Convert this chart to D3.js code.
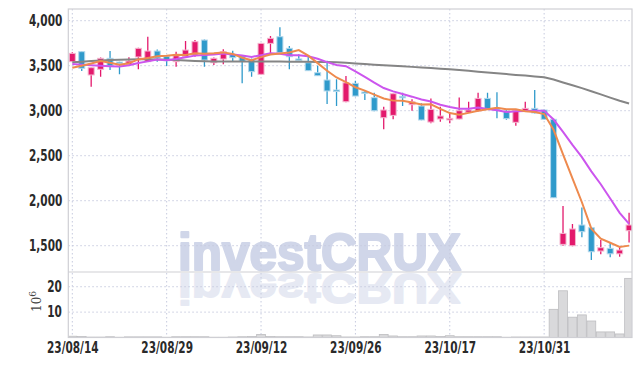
<!DOCTYPE html>
<html>
<head>
<meta charset="utf-8">
<script src="https://cdn.jsdelivr.net/npm/d3@7"></script>
<style>
  body { margin: 0; background: #fff; }
  svg text { font-family: "Liberation Sans Narrow", "DejaVu Sans Condensed", sans-serif; }
</style>
</head>
<body>
<div id="chart"></div>
<script>
// trading days (yy/mm/dd)
var dates = ["23/08/14","23/08/16","23/08/17","23/08/18","23/08/21","23/08/22","23/08/23","23/08/24","23/08/25","23/08/28",
  "23/08/29","23/08/30","23/08/31","23/09/01","23/09/04","23/09/05","23/09/06","23/09/07","23/09/08","23/09/11",
  "23/09/12","23/09/13","23/09/14","23/09/15","23/09/18","23/09/19","23/09/20","23/09/21","23/09/22","23/09/25",
  "23/09/26","23/09/27","23/10/04","23/10/05","23/10/06","23/10/10","23/10/11","23/10/12","23/10/13","23/10/16",
  "23/10/17","23/10/18","23/10/19","23/10/20","23/10/23","23/10/24","23/10/25","23/10/26","23/10/27","23/10/30",
  "23/10/31","23/11/01","23/11/02","23/11/03","23/11/06","23/11/07","23/11/08","23/11/09","23/11/10","23/11/13"];

var opens = [3545,3656,3397,3460,3582,3540,3512,3597,3545,3663, 3605,3545,3600,3619,3785,3533,3574,3626,3608,3571,
  3404,3748,3822,3693,3575,3533,3422,3341,3230,3100, 3304,3208,3145,2922,2948,3160,3067,3052,2874,2908,
  2897,2908,2982,2997,3137,3026,2995,2871,3000,3026, 3008,2904,1515,1500,1730,1700,1441,1471,1410,1667];
var highs = [3650,3660,3482,3590,3663,3545,3593,3700,3822,3680, 3610,3656,3774,3785,3790,3590,3682,3667,3612,3580,
  3750,3830,3926,3719,3626,3600,3500,3556,3349,3386, 3333,3230,3200,3045,3195,3200,3126,3082,3137,3045,
  2971,3148,3100,3200,3200,3204,3019,3005,3100,3230, 3010,2910,1941,1741,1926,1705,1563,1537,1489,1867];
var lows = [3540,3441,3267,3378,3452,3405,3508,3460,3540,3545, 3497,3489,3595,3600,3489,3508,3515,3545,3304,3378,
  3400,3637,3640,3460,3545,3440,3385,3074,3052,3095, 3160,3119,2995,2793,2904,3052,3000,2895,2860,2878,
  2860,2905,2975,2990,3010,2915,2900,2834,2995,2970, 2900,2030,1500,1495,1593,1341,1404,1371,1378,1537];
var closes = [3637,3471,3478,3582,3497,3525,3552,3693,3663,3585, 3555,3611,3674,3767,3563,3582,3656,3589,3548,3434,
  3748,3804,3645,3600,3568,3445,3389,3219,3222,3310, 3163,3200,3000,3008,3189,3152,3100,2897,3015,2941,
  2915,3000,3008,3137,3015,3010,2912,3000,3026,2975, 2904,2033,1637,1686,1656,1433,1478,1410,1452,1730];

// moving averages as drawn
var ma5 = [3478,3500,3525,3552,3533,3511,3527,3570,3586,3604, 3610,3621,3618,3638,3634,3639,3648,3631,3588,3562,
  3595,3625,3636,3646,3673,3612,3529,3444,3369,3317, 3261,3223,3179,3136,3112,3110,3090,3069,3071,3021,
  2974,2954,2976,3000,3015,3034,3016,3015,2993,2985, 2963,2788,2515,2247,1983,1689,1578,1533,1486,1501];
var ma10 = [3520,3512,3505,3500,3495,3490,3505,3530,3548,3568, 3560,3574,3594,3612,3619,3625,3635,3625,3613,3598,
  3617,3637,3634,3617,3617,3604,3577,3540,3507,3495, 3437,3376,3312,3252,3215,3185,3156,3124,3103,3067,
  3042,3022,3023,3035,3018,3004,2985,2995,2996,3000, 2999,2902,2765,2620,2484,2326,2183,2024,1866,1742];
var ma60 = [3538,3545,3552,3558,3563,3567,3570,3572,3572,3570, 3567,3563,3558,3553,3550,3548,3547,3547,3546,3546,
  3546,3546,3546,3545,3545,3544,3542,3540,3537,3533, 3525,3518,3511,3505,3499,3493,3487,3481,3474,3467,
  3460,3451,3443,3434,3425,3416,3407,3398,3390,3381, 3371,3346,3314,3283,3251,3216,3181,3145,3110,3080];

// volume, millions
var volumes = [0.5,0.4,0.15,0.15,0.3,0.1,0.25,0.25,0.25,0.25, 0.1,0.3,0.3,0.3,0.3,0.1,0.1,0.2,0.3,0.4,
  1.2,0.4,0.3,0.3,0.3,0.2,1.0,1.0,0.7,0.2, 0.2,0.3,0.3,1.2,0.6,0.3,0.3,0.6,0.6,0.4,
  0.7,0.3,0.3,0.3,0.3,0.3,0.1,0.2,0.2,0.2, 0.2,11.1,18.4,8.0,8.9,6.5,2.2,2.2,1.4,23.3];

var priceTicks = [1500, 2000, 2500, 3000, 3500, 4000];
var volumeTicks = [10, 20];
var dateTicks = ["23/08/14", "23/08/29", "23/09/12", "23/09/26", "23/10/17", "23/10/31"];

var W = 642, H = 366;
var padL = 68.3, padR = 632, padT = 9, midY = 272, padB = 337.5;

var svg = d3.select('#chart').append('svg').attr('width', W).attr('height', H);

var x = d3.scaleLinear().domain([-0.424, 59.31]).range([padL, padR]);
var y = d3.scaleLinear().domain([1208, 4130]).range([midY, padT]);
var yv = d3.scaleLinear().domain([0, 25.8]).range([padB, midY]);
var step = x(1) - x(0);
var tickIdx = dateTicks.map(function(d){ return dates.indexOf(d); });

var defs = svg.append('defs');
defs.append('clipPath').attr('id', 'clipP').append('rect')
  .attr('x', padL).attr('y', padT).attr('width', padR - padL).attr('height', midY - padT);
defs.append('clipPath').attr('id', 'clipV').append('rect')
  .attr('x', padL).attr('y', midY).attr('width', padR - padL).attr('height', padB - midY);

// watermark + reflection
function watermark(sel, color){
  return sel.append('text').attr('x', 178).attr('textLength', 283).attr('lengthAdjust', 'spacingAndGlyphs')
    .style('font-family', '"Liberation Sans", Arial, sans-serif').style('font-weight', 'bold')
    .style('font-size', '52px').attr('fill', color)
    .attr('stroke', color).attr('stroke-width', 2.2).attr('stroke-linejoin', 'round')
    .text('investCRUX');
}
watermark(svg, '#d0d6e9').attr('y', 270);
watermark(svg.append('g').attr('clip-path', 'url(#clipV)'), '#e6e9f3')
  .attr('y', 0).attr('transform', 'translate(0,' + (midY + 2) + ') scale(1,-0.8)');

// grid
var grid = svg.append('g').attr('stroke', '#c6cade').attr('stroke-dasharray', '1.5,2.5').attr('stroke-width', 1);
grid.selectAll('.hp').data(priceTicks).enter().append('line')
  .attr('x1', padL).attr('x2', padR).attr('y1', function(d){ return y(d); }).attr('y2', function(d){ return y(d); });
grid.selectAll('.hv').data(volumeTicks).enter().append('line')
  .attr('x1', padL).attr('x2', padR).attr('y1', function(d){ return yv(d); }).attr('y2', function(d){ return yv(d); });
grid.selectAll('.v').data(tickIdx).enter().append('line')
  .attr('y1', padT).attr('y2', padB).attr('x1', function(d){ return x(d); }).attr('x2', function(d){ return x(d); });

// volume bars
svg.append('g').attr('clip-path', 'url(#clipV)').selectAll('rect').data(volumes).enter().append('rect')
  .attr('x', function(d, i){ return x(i) - step / 2 + 0.3; })
  .attr('width', step - 0.6)
  .attr('y', function(d){ return yv(d); })
  .attr('height', function(d){ return padB - yv(d); })
  .attr('fill', '#d9d9db').attr('stroke', '#bdbdc0').attr('stroke-width', 0.8);

// candles
var up = '#e3196c', down = '#2f9acb';
var candles = svg.append('g').attr('clip-path', 'url(#clipP)');
var cg = candles.selectAll('g').data(closes).enter().append('g');
cg.append('line')
  .attr('x1', function(d, i){ return x(i); }).attr('x2', function(d, i){ return x(i); })
  .attr('y1', function(d, i){ return y(highs[i]); }).attr('y2', function(d, i){ return y(lows[i]); })
  .attr('stroke', function(d, i){ return d >= opens[i] ? up : down; }).attr('stroke-width', 1.3);
cg.append('rect')
  .attr('x', function(d, i){ return x(i) - 3; }).attr('width', 6)
  .attr('y', function(d, i){ return y(Math.max(d, opens[i])); })
  .attr('height', function(d, i){ return Math.max(1.5, Math.abs(y(d) - y(opens[i]))); })
  .attr('fill', function(d, i){ return d >= opens[i] ? up : down; })
  .attr('stroke', function(d, i){ return d >= opens[i] ? '#f4b6cf' : '#b3d8ec'; })
  .attr('stroke-width', 1);

// moving averages
var line = d3.line().x(function(d, i){ return x(i); }).y(function(d){ return y(d); });
var lines = svg.append('g').attr('clip-path', 'url(#clipP)').attr('fill', 'none');
lines.append('path').datum(ma60).attr('d', line).attr('stroke', '#858585').attr('stroke-width', 2);
lines.append('path').datum(ma10).attr('d', line).attr('stroke', '#cc55ee').attr('stroke-width', 2);
lines.append('path').datum(ma5).attr('d', line).attr('stroke', '#ee8a4e').attr('stroke-width', 2);

// frame
var frame = svg.append('g').attr('stroke', '#cfcfd4').attr('stroke-width', 1.2).attr('fill', 'none');
frame.append('rect').attr('x', padL).attr('y', padT).attr('width', padR - padL).attr('height', padB - padT);
frame.append('line').attr('x1', padL).attr('x2', padR).attr('y1', midY).attr('y2', midY);

// axes (labels squeezed to look like the condensed face of the original)
var yAxis = svg.append('g').attr('transform', 'translate(' + (padL - 6) + ',0)')
  .call(d3.axisLeft(y).tickValues(priceTicks).tickSize(0).tickPadding(0).tickFormat(d3.format(',')));
var vAxis = svg.append('g').attr('transform', 'translate(' + (padL - 6.5) + ',0)')
  .call(d3.axisLeft(yv).tickValues(volumeTicks).tickSize(0).tickPadding(0));
var xAxis = svg.append('g').attr('transform', 'translate(0,' + padB + ')')
  .call(d3.axisBottom(x).tickValues(tickIdx).tickSize(0).tickPadding(5)
    .tickFormat(function(i){ return dates[i]; }));
[yAxis, vAxis, xAxis].forEach(function(a){
  a.select('.domain').remove();
  a.selectAll('text').attr('fill', '#2a2a2a').attr('x', 0).attr('transform', 'scale(0.78,1)')
    .style('font-size', '15px').style('font-weight', 'bold');
});

var unit = svg.append('text').attr('transform', 'translate(41,312) rotate(-90)')
  .style('font-family', '"DejaVu Serif", serif').style('font-size', '12px').attr('fill', '#444');
unit.append('tspan').text('10');
unit.append('tspan').attr('dy', -5).style('font-size', '9px').text('6');
</script>
</body>
</html>
